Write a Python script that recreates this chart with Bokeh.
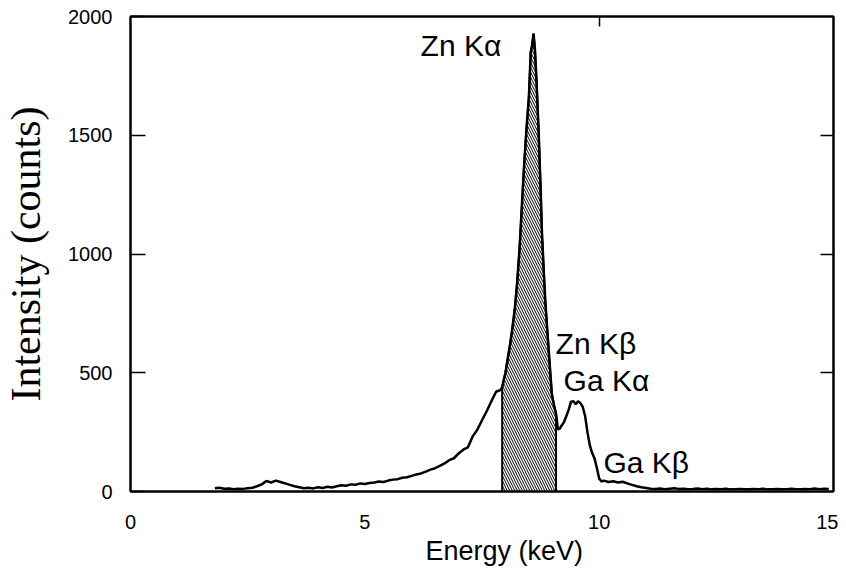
from bokeh.plotting import figure
from bokeh.models import Range1d, LinearAxis, FixedTicker, ColumnDataSource, Title
from bokeh.core.properties import value
from bokeh.embed import file_html
from bokeh.resources import INLINE

# ---- data ----
energy = [1.8, 1.9, 2.0, 2.1, 2.2, 2.3, 2.4, 2.5, 2.6, 2.7, 2.8, 2.9, 3.0, 3.1, 3.2, 3.3,
          3.4, 3.5, 3.6, 3.7, 3.8, 3.9, 4.0, 4.1, 4.2, 4.3, 4.4, 4.5, 4.6, 4.7, 4.8, 4.9,
          5.0, 5.1, 5.2, 5.3, 5.4, 5.5, 5.6, 5.7, 5.8, 5.9, 6.0, 6.1, 6.2, 6.3, 6.4, 6.5,
          6.6, 6.7, 6.8, 6.9, 7.0, 7.1, 7.2, 7.3, 7.4, 7.5, 7.6, 7.7, 7.8, 7.9,
          7.93, 8.0, 8.05, 8.1, 8.15, 8.2, 8.25, 8.3, 8.35, 8.4, 8.45, 8.5, 8.54, 8.57,
          8.6, 8.63, 8.67, 8.71, 8.75, 8.78, 8.82, 8.85, 8.9, 8.95, 8.99, 9.04, 9.08,
          9.12, 9.16, 9.2, 9.25, 9.3, 9.35, 9.4, 9.45, 9.5, 9.55, 9.6, 9.65, 9.7, 9.75,
          9.8, 9.85, 9.9, 9.95, 10.0, 10.05, 10.1, 10.2, 10.3, 10.4, 10.5, 10.6, 10.7,
          10.8, 10.9, 11.0, 11.1, 11.2, 11.3, 11.4, 11.5, 11.6, 11.7, 11.8, 11.9, 12.0,
          12.1, 12.2, 12.3, 12.4, 12.5, 12.6, 12.7, 12.8, 12.9, 13.0, 13.1, 13.2, 13.3,
          13.4, 13.5, 13.6, 13.7, 13.8, 13.9, 14.0, 14.1, 14.2, 14.3, 14.4, 14.5, 14.6,
          14.7, 14.8, 14.9]
counts = [14, 16, 12, 13, 10, 12, 11, 14, 16, 22, 30, 44, 38, 46, 40, 34,
          28, 22, 18, 14, 16, 13, 18, 15, 20, 17, 22, 26, 24, 30, 28, 34,
          32, 36, 38, 42, 40, 46, 50, 52, 58, 60, 66, 72, 76, 84, 92, 98,
          108, 118, 132, 140, 160, 176, 186, 232, 260, 300, 338, 380, 420, 428,
          440, 500, 560, 620, 690, 770, 880, 1020, 1200, 1380, 1530, 1660, 1850, 1880,
          1928, 1860, 1700, 1506, 1280, 1085, 920, 804, 660, 520, 411, 360, 327,
          262, 265, 278, 292, 318, 345, 378, 380, 368, 380, 372, 356, 318, 250,
          195, 162, 140, 100, 55, 42, 46, 40, 43, 38, 41, 34, 28,
          22, 18, 15, 12, 11, 13, 10, 12, 14, 11, 12, 10, 11,
          13, 10, 12, 9, 11, 10, 12, 9, 10, 11, 10, 9, 11,
          10, 12, 9, 10, 11, 9, 10, 12, 10, 9, 11, 10, 13,
          10, 12, 11]

band_start = 7.93   # shaded Zn K-alpha window
band_end = 9.08

labels = ["Zn K\u03b1", "Zn K\u03b2", "Ga K\u03b1", "Ga K\u03b2"]
label_x = [6.19, 9.07, 9.24, 10.09]
label_y = [1880, 623, 467, 122]

x_ticks = [0, 5, 10, 15]
y_ticks = [0, 500, 1000, 1500, 2000]
right_ticks = [500, 1000, 1500]
top_ticks = [10]

SANS = "'Liberation Sans', Arial, sans-serif"
SERIF = "'Liberation Serif', 'Times New Roman', serif"

p = figure(width=838, height=573, x_range=Range1d(0, 15), y_range=Range1d(0, 2000),
           output_backend="svg", toolbar_location=None,
           min_border_left=130, min_border_right=5, min_border_top=16, min_border_bottom=82)
p.grid.visible = False
p.outline_line_color = "black"
p.outline_line_width = 2
p.background_fill_color = "white"
p.border_fill_color = "white"

# bottom axis
xa = p.xaxis[0]
xa.ticker = FixedTicker(ticks=x_ticks)
xa.major_label_text_font = SANS
xa.major_label_text_font_size = "20px"
xa.major_label_standoff = 17
xa.major_tick_line_color = None
xa.minor_tick_line_color = None
xa.axis_line_width = 2
xa.axis_line_color = "black"
xa.major_label_text_color = "black"

# x-axis title (sits slightly right of centre in the reference)
p.add_layout(Title(text="Energy (keV)", align="left", offset=295, standoff=4,
                   text_font=SANS, text_font_size="27px", text_font_style="normal",
                   text_color="black"), "below")

# left axis
ya = p.yaxis[0]
ya.ticker = FixedTicker(ticks=y_ticks)
ya.axis_label = "Intensity (counts)"
ya.axis_label_text_font = SERIF
ya.axis_label_text_font_size = "42px"
ya.axis_label_text_font_style = "normal"
ya.axis_label_standoff = 16
ya.major_label_text_font = SANS
ya.major_label_text_font_size = "20px"
ya.major_label_standoff = 18
ya.major_tick_in = 15
ya.major_tick_out = 0
ya.major_tick_line_width = 1.5
ya.minor_tick_line_color = None
ya.axis_line_width = 2
ya.axis_line_color = "black"
ya.major_label_text_color = "black"
ya.axis_label_text_color = "black"

# right axis (ticks only)
ra = LinearAxis(ticker=FixedTicker(ticks=right_ticks), major_tick_in=13, major_tick_out=0,
                major_tick_line_width=1.5, minor_tick_line_color=None,
                major_label_overrides={t: "" for t in right_ticks}, major_label_standoff=0,
                axis_line_width=2)
p.add_layout(ra, "right")

# top axis (ticks only)
ta = LinearAxis(ticker=FixedTicker(ticks=top_ticks), major_tick_in=10, major_tick_out=0,
                major_tick_line_width=1.5, minor_tick_line_color=None,
                major_label_overrides={t: "" for t in top_ticks}, major_label_standoff=0,
                axis_line_width=2)
p.add_layout(ta, "above")

# shaded Zn K-alpha window
band_x = [band_start] + [e for e in energy if band_start <= e <= band_end] + [band_end]
band_y = [0] + [c for e, c in zip(energy, counts) if band_start <= e <= band_end] + [0]
p.patch(band_x, band_y, fill_color="white", hatch_pattern="\\", hatch_scale=5,
        hatch_weight=1, hatch_color="black", line_color="black", line_width=2)

# spectrum
src = ColumnDataSource(dict(x=energy, y=counts))
p.line("x", "y", source=src, line_color="black", line_width=2.5)

# peak labels
p.text(x=label_x, y=label_y, text=labels, text_font=value(SANS), text_font_size="30px",
       text_baseline="middle", text_align="left", text_color="black")

open("out.html", "w").write(file_html(p, INLINE))
